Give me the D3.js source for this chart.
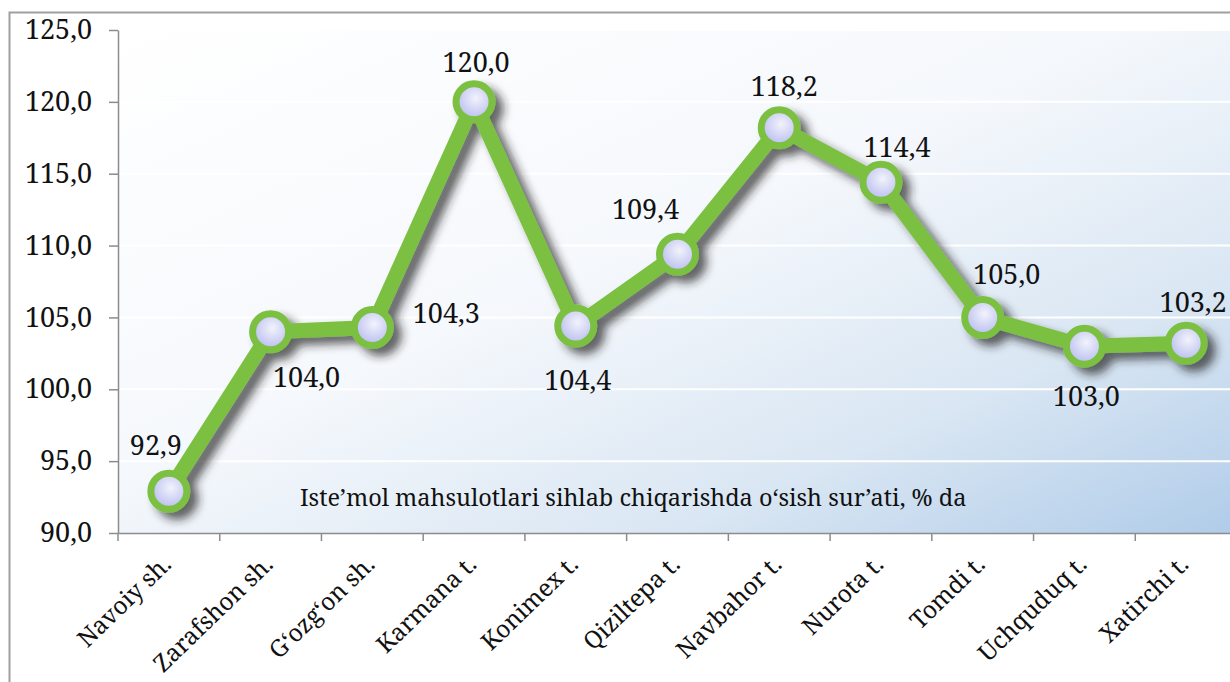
<!DOCTYPE html>
<html>
<head>
<meta charset="utf-8">
<script src="https://cdn.jsdelivr.net/npm/d3@7"></script>
<style>
  body { margin: 0; background: #fff; }
  svg text { font-family: "Noto Serif", "Liberation Serif", serif !important; fill: #111; }
</style>
</head>
<body>
<div id="chart"></div>
<script>
//------------------------------------------------------------------------ Data
var districts = ["Navoiy sh.", "Zarafshon sh.", "G‘ozg‘on sh.", "Karmana t.", "Konimex t.",
                 "Qiziltepa t.", "Navbahor t.", "Nurota t.", "Tomdi t.", "Uchquduq t.", "Xatirchi t."];
var growth = [92.9, 104.0, 104.3, 120.0, 104.4, 109.4, 118.2, 114.4, 105.0, 103.0, 103.2];
var yTicks = [90, 95, 100, 105, 110, 115, 120, 125];
var chartNote = "Iste’mol mahsulotlari sihlab chiqarishda o‘sish sur’ati, % da";

// where each value label sits relative to its point [dx, dy of baseline]
var labelOffsets = [[-13, -36], [36, 55], [74, -4], [2, -30], [2, 64], [-32, -35],
                    [5, -32], [16, -25], [24, -33], [2, 60], [7, -31]];

//------------------------------------------------------------------------ Layout
var W = 1230, H = 682;
var margin = {top: 30, right: -7, bottom: 149, left: 118},
    width = W - margin.left - margin.right,
    height = H - margin.top - margin.bottom;

var green = "#7cc043";

function fmt(v){
  return v.toFixed(1).replace(".", ",");
}

//------------------------------------------------------------------------ SVG
var svg = d3.select("#chart").append("svg")
  .attr("width", W)
  .attr("height", H);

var defs = svg.append("defs");

var bg = defs.append("linearGradient").attr("id", "bg")
  .attr("x1", "0").attr("y1", "0").attr("x2", "1").attr("y2", "1");
bg.append("stop").attr("offset", "0").attr("stop-color", "#ffffff");
bg.append("stop").attr("offset", "0.45").attr("stop-color", "#f5f8fc");
bg.append("stop").attr("offset", "0.75").attr("stop-color", "#d9e6f3");
bg.append("stop").attr("offset", "1").attr("stop-color", "#b0cce9");

var dot = defs.append("radialGradient").attr("id", "dot")
  .attr("cx", "0.55").attr("cy", "0.4").attr("r", "0.6");
dot.append("stop").attr("offset", "0").attr("stop-color", "#f2f3fb");
dot.append("stop").attr("offset", "1").attr("stop-color", "#b8bcf0");

var shadow = defs.append("filter").attr("id", "shadow")
  .attr("x", "-20%").attr("y", "-20%").attr("width", "140%").attr("height", "140%");
shadow.append("feGaussianBlur").attr("in", "SourceAlpha").attr("stdDeviation", 5).attr("result", "blur");
shadow.append("feOffset").attr("in", "blur").attr("dx", 8).attr("dy", 7).attr("result", "off");
shadow.append("feFlood").attr("flood-color", "#222").attr("flood-opacity", 0.7);
shadow.append("feComposite").attr("in2", "off").attr("operator", "in").attr("result", "sh");
var merge = shadow.append("feMerge");
merge.append("feMergeNode").attr("in", "sh");
merge.append("feMergeNode").attr("in", "SourceGraphic");

// outer frame
svg.append("rect")
  .attr("x", 9.5).attr("y", 12.5)
  .attr("width", W).attr("height", H)
  .attr("fill", "none")
  .attr("stroke", "#a0a0a0")
  .attr("stroke-width", 2);

var g = svg.append("g")
  .attr("transform", "translate(" + margin.left + "," + margin.top + ")");

//------------------------------------------------------------------------ Scales
var x = d3.scaleBand().domain(districts).range([0, width]);
var y = d3.scaleLinear().domain([90, 125]).range([height, 0]);

// plot background
g.append("rect")
  .attr("width", width).attr("height", height)
  .attr("fill", "url(#bg)");

// grid
g.selectAll(".grid").data(yTicks.slice(1)).enter().append("line")
  .attr("x1", 0).attr("x2", width)
  .attr("y1", function(d){ return y(d); })
  .attr("y2", function(d){ return y(d); })
  .attr("stroke", "#ffffff")
  .attr("stroke-width", 2);

//------------------------------------------------------------------------ Axes
var yAxis = g.append("g")
  .call(d3.axisLeft(y).tickValues(yTicks).tickSize(9).tickSizeOuter(0).tickPadding(17).tickFormat(fmt));
yAxis.select(".domain").attr("stroke", "#8c8c8c").attr("stroke-width", 1.5);
yAxis.selectAll(".tick line").attr("stroke", "#8c8c8c").attr("stroke-width", 1.5);
yAxis.selectAll("text").style("font-size", "27px");

var xAxis = g.append("g")
  .attr("transform", "translate(0," + height + ")")
  .call(d3.axisBottom(x).tickSize(8).tickSizeOuter(0));
xAxis.select(".domain").attr("stroke", "#8c8c8c").attr("stroke-width", 1.5);
xAxis.selectAll(".tick line")
  .attr("stroke", "#8c8c8c").attr("stroke-width", 1.5)
  .attr("transform", "translate(" + (-x.bandwidth() / 2) + ",0)");
xAxis.selectAll("text")
  .style("font-size", "24px")
  .attr("x", 0).attr("y", 0).attr("dy", 0)
  .attr("text-anchor", "end")
  .attr("transform", "translate(4,33) rotate(-44)");

//------------------------------------------------------------------------ Line + markers
function cx(d, i){ return x(districts[i]) + x.bandwidth() / 2; }

var series = g.append("g").attr("filter", "url(#shadow)");

series.append("path")
  .datum(growth)
  .attr("fill", "none")
  .attr("stroke", green)
  .attr("stroke-width", 15)
  .attr("stroke-linejoin", "round")
  .attr("d", d3.line().x(cx).y(function(d){ return y(d); }));

series.selectAll("circle").data(growth).enter().append("circle")
  .attr("cx", cx)
  .attr("cy", function(d){ return y(d); })
  .attr("r", 18)
  .attr("fill", "url(#dot)")
  .attr("stroke", green)
  .attr("stroke-width", 7);

// value labels
g.selectAll(".val").data(growth).enter().append("text")
  .attr("x", function(d, i){ return cx(d, i) + labelOffsets[i][0]; })
  .attr("y", function(d, i){ return y(d) + labelOffsets[i][1]; })
  .attr("text-anchor", "middle")
  .style("font-size", "27px")
  .text(fmt);

// note inside the plot
g.append("text")
  .attr("x", 182).attr("y", 476)
  .style("font-size", "23.5px")
  .text(chartNote);
</script>
</body>
</html>
